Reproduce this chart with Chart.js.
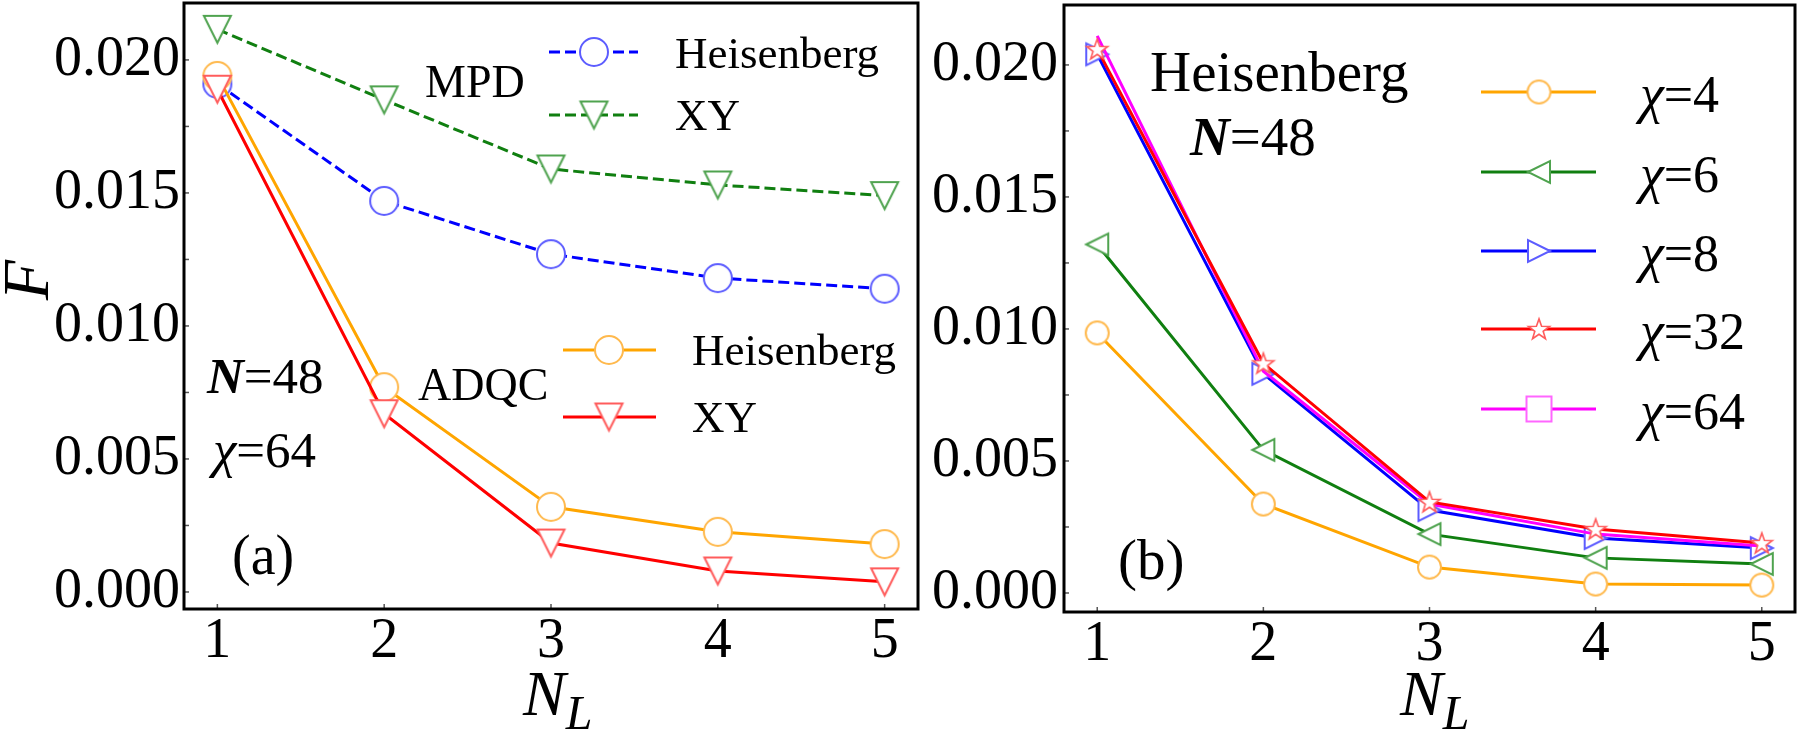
<!DOCTYPE html>
<html>
<head>
<meta charset="utf-8">
<script src="https://cdn.jsdelivr.net/npm/chart.js@4.4.0/dist/chart.umd.min.js"></script>
<style>
  html, body { margin: 0; padding: 0; background: #fff; }
  #wrap { position: relative; width: 1800px; height: 732px; overflow: hidden; }
  canvas { position: absolute; top: 0; }
  #ca { left: 0; }
  #cb { left: 930px; }
</style>
</head>
<body>
<div id="wrap">
  <canvas id="ca" width="940" height="732"></canvas>
  <canvas id="cb" width="870" height="732"></canvas>
</div>
<script>
// ---- data ----
const nl = [1, 2, 3, 4, 5];
const xTicks = [1, 2, 3, 4, 5];
const yMajor = [0, 0.005, 0.01, 0.015, 0.02];
const yMinor = [0.0025, 0.0075, 0.0125, 0.0175];

// panel (a): N=48, chi=64
const mpdHeis  = [0.0191, 0.0147, 0.0127, 0.0118, 0.0114];
const mpdXY    = [0.02115, 0.0185, 0.0159, 0.0153, 0.0149];
const adqcHeis = [0.0194, 0.0077, 0.0032, 0.00226, 0.0018];
const adqcXY   = [0.0189, 0.0067, 0.00184, 0.00079, 0.00038];

// panel (b): Heisenberg, N=48
const chi4  = [0.00985, 0.00337, 0.00098, 0.00034, 0.0003];
const chi6  = [0.0132, 0.00542, 0.00223, 0.00133, 0.0011];
const chi8  = [0.0204, 0.0083, 0.00314, 0.00208, 0.0017];
const chi32 = [0.0206, 0.0087, 0.00345, 0.00242, 0.00189];
const chi64 = [0.0211, 0.0084, 0.00337, 0.00223, 0.00178];
const chiValues = ['4', '6', '8', '32', '64'];

const SERIF = "'Liberation Serif', 'DejaVu Serif', 'Times New Roman', serif";
const pts = ys => ys.map((y, i) => ({x: nl[i], y}));

// matplotlib-like hollow markers
function marker(shape, size, stroke, lw) {
  const c = document.createElement('canvas');
  const d = Math.ceil(size + 2 * lw + 4);
  c.width = c.height = d;
  const g = c.getContext('2d');
  const m = d / 2, h = size / 2;
  g.beginPath();
  if (shape === 'circle') g.arc(m, m, h, 0, Math.PI * 2);
  else if (shape === 'down') { g.moveTo(m - h, m - h); g.lineTo(m + h, m - h); g.lineTo(m, m + h); g.closePath(); }
  else if (shape === 'left') { g.moveTo(m - h, m); g.lineTo(m + h, m - h); g.lineTo(m + h, m + h); g.closePath(); }
  else if (shape === 'right') { g.moveTo(m + h, m); g.lineTo(m - h, m - h); g.lineTo(m - h, m + h); g.closePath(); }
  else if (shape === 'square') g.rect(m - h, m - h, size, size);
  else if (shape === 'star') {
    for (let i = 0; i < 10; i++) {
      const r = i % 2 ? h * 0.4 : h, a = -Math.PI / 2 + i * Math.PI / 5;
      const px = m + r * Math.cos(a), py = m + r * Math.sin(a) + h * 0.08;
      i ? g.lineTo(px, py) : g.moveTo(px, py);
    }
    g.closePath();
  }
  g.fillStyle = '#fff'; g.fill();
  g.lineWidth = lw; g.strokeStyle = stroke; g.stroke();
  return c;
}

const C = {
  orange: '#ffa500', orangeE: '#ffb94d',
  blue: '#0000ff', blueE: '#5c5cff',
  green: '#107f10', greenE: '#4fa34f',
  red: '#ff0000', redE: '#ff5c5c',
  mag: '#ff00ff', magE: '#ff66ff'
};

const mA = {
  blue: marker('circle', 28, C.blueE, 2),
  green: marker('down', 27, C.greenE, 2),
  orange: marker('circle', 28, C.orangeE, 2),
  red: marker('down', 27, C.redE, 2)
};
const mB = {
  c4: marker('circle', 23, C.orangeE, 2),
  c6: marker('left', 22, C.greenE, 2),
  c8: marker('right', 22, C.blueE, 2),
  c32: marker('star', 22, C.redE, 1.6),
  c64: marker('square', 25, C.magE, 2)
};

function ds(data, color, img, dash) {
  return {
    data: pts(data), borderColor: color, borderWidth: 3, borderDash: dash || [],
    pointStyle: img || false, pointRadius: img ? 12 : 0, tension: 0, fill: false
  };
}

function scales(yMin, yMax, yW, xH, yPad) {
  return {
    x: {
      type: 'linear', min: 0.8, max: 5.2,
      afterBuildTicks: s => { s.ticks = xTicks.map(v => ({value: v})); },
      afterFit: s => { s.height = xH; s.paddingLeft = 0; s.paddingRight = 0; },
      grid: {display: false, drawTicks: false}, border: {display: false},
      ticks: {autoSkip: false, maxRotation: 0, padding: 0, color: '#000', font: {family: SERIF, size: 56}, callback: v => String(v)}
    },
    y: {
      type: 'linear', min: yMin, max: yMax,
      afterBuildTicks: s => { s.ticks = yMajor.concat(yMinor).sort((a, b) => a - b).map(v => ({value: v})); },
      afterFit: s => { s.width = yW; s.paddingTop = 0; s.paddingBottom = 0; },
      grid: {display: false, drawTicks: false}, border: {display: false},
      ticks: {autoSkip: false, padding: yPad, color: '#000', font: {family: SERIF, size: 56},
        callback: v => yMajor.includes(v) ? v.toFixed(3) : ''}
    }
  };
}

function drawRuns(ctx, runs, x, y) {
  runs.forEach(([font, s]) => { ctx.font = font; ctx.fillText(s, x, y); x += ctx.measureText(s).width; });
}

// frame, inward ticks, texts, legends
const deco = {
  id: 'deco',
  afterDraw(chart, args, o) {
    const ctx = chart.ctx, a = chart.chartArea, sx = chart.scales.x, sy = chart.scales.y;
    const off = o.off || 0;
    ctx.save();
    ctx.strokeStyle = '#555'; ctx.lineWidth = 1.5;
    xTicks.forEach(v => {
      const p = sx.getPixelForValue(v);
      ctx.beginPath(); ctx.moveTo(p, a.bottom); ctx.lineTo(p, a.bottom - 5); ctx.stroke();
    });
    yMajor.concat(yMinor).forEach(v => {
      const p = sy.getPixelForValue(v);
      ctx.beginPath(); ctx.moveTo(a.left, p); ctx.lineTo(a.left + 5, p); ctx.stroke();
    });
    ctx.strokeStyle = '#000'; ctx.lineWidth = 3;
    ctx.strokeRect(a.left, a.top, a.right - a.left, a.bottom - a.top);

    ctx.fillStyle = '#000'; ctx.textBaseline = 'alphabetic'; ctx.textAlign = 'left';
    (o.legend || []).forEach(r => {
      ctx.save();
      ctx.strokeStyle = r.color; ctx.lineWidth = 3; ctx.setLineDash(r.dash || []);
      ctx.beginPath(); ctx.moveTo(r.x0 - off, r.y); ctx.lineTo(r.x1 - off, r.y); ctx.stroke();
      ctx.restore();
      ctx.drawImage(r.img, r.mx - off - r.img.width / 2, r.y - r.img.height / 2);
      drawRuns(ctx, r.runs, r.tx - off, r.y + r.dy);
    });
    (o.texts || []).forEach(t => drawRuns(ctx, t.runs, t.x - off, t.y));
    // x axis title N_L
    const xt = o.xTitle;
    ctx.font = 'italic 64px ' + SERIF; ctx.fillText('N', xt.x - off, 715);
    const nw = ctx.measureText('N').width;
    ctx.font = 'italic 48px ' + SERIF; ctx.fillText('L', xt.x - off + nw, 729);
    if (o.yTitle) {
      ctx.translate(48, 280); ctx.rotate(-Math.PI / 2);
      ctx.textAlign = 'center'; ctx.font = 'italic 66px ' + SERIF; ctx.fillText('F', 0, 0);
    }
    ctx.restore();
  }
};

const f = (px, st) => (st || '') + ' ' + px + 'px ' + SERIF;

new Chart(document.getElementById('ca'), {
  type: 'line',
  data: {datasets: [
    ds(adqcXY, C.red, mA.red),
    ds(adqcHeis, C.orange, mA.orange),
    ds(mpdHeis, C.blue, mA.blue, [11, 5]),
    ds(mpdXY, C.green, mA.green, [11, 5])
  ]},
  options: {
    responsive: false, animation: false, events: [],
    layout: {autoPadding: false, padding: {top: 3, right: 22, left: 0, bottom: 0}},
    scales: scales(-0.00064, 0.02214, 184, 123, 4),
    plugins: {
      legend: {display: false}, tooltip: {enabled: false},
      deco: {
        off: 0, yTitle: true, xTitle: {x: 523},
        legend: [
          {y: 52, color: C.blue, dash: [11, 5], img: mA.blue, x0: 549, x1: 638, mx: 594, tx: 675, dy: 16, runs: [[f(45), 'Heisenberg']]},
          {y: 115, color: C.green, dash: [11, 5], img: mA.green, x0: 549, x1: 638, mx: 594, tx: 675, dy: 15, runs: [[f(45), 'XY']]},
          {y: 350, color: C.orange, img: mA.orange, x0: 563, x1: 656, mx: 609, tx: 692, dy: 15, runs: [[f(45), 'Heisenberg']]},
          {y: 417, color: C.red, img: mA.red, x0: 563, x1: 656, mx: 609, tx: 692, dy: 15, runs: [[f(45), 'XY']]}
        ],
        texts: [
          {x: 425, y: 97, runs: [[f(46), 'MPD']]},
          {x: 418, y: 400, runs: [[f(46), 'ADQC']]},
          {x: 207, y: 393, runs: [[f(51, 'italic bold'), 'N'], [f(51), '=48']]},
          {x: 213, y: 467, runs: [[f(53, 'italic'), 'χ'], [f(51), '=64']]},
          {x: 232, y: 574, runs: [[f(56), '(a)']]}
        ]
      }
    }
  },
  plugins: [deco]
});

const legB = [C.orange, C.green, C.blue, C.red, C.mag];
const imgB = [mB.c4, mB.c6, mB.c8, mB.c32, mB.c64];
const rowY = [92, 172, 251, 329, 409];

new Chart(document.getElementById('cb'), {
  type: 'line',
  data: {datasets: [
    ds(chi32, C.red, mB.c32),
    ds(chi64, C.mag, null),
    ds(chi8, C.blue, mB.c8),
    ds(chi6, C.green, mB.c6),
    ds(chi4, C.orange, mB.c4)
  ]},
  options: {
    responsive: false, animation: false, events: [],
    layout: {autoPadding: false, padding: {top: 5, right: 5, left: 0, bottom: 0}},
    scales: scales(-0.00072, 0.02227, 134, 120, 6),
    plugins: {
      legend: {display: false}, tooltip: {enabled: false},
      deco: {
        off: 930, yTitle: false, xTitle: {x: 1400},
        legend: chiValues.map((t, i) => ({
          y: rowY[i], color: legB[i], img: imgB[i], x0: 1481, x1: 1596, mx: 1539, tx: 1640, dy: 20,
          runs: [[f(54, 'italic'), 'χ'], [f(52), '=' + t]]
        })),
        texts: [
          {x: 1150, y: 91, runs: [[f(57), 'Heisenberg']]},
          {x: 1190, y: 155, runs: [[f(55, 'italic bold'), 'N'], [f(55), '=48']]},
          {x: 1118, y: 579, runs: [[f(57), '(b)']]}
        ]
      }
    }
  },
  plugins: [deco]
});
</script>
</body>
</html>
